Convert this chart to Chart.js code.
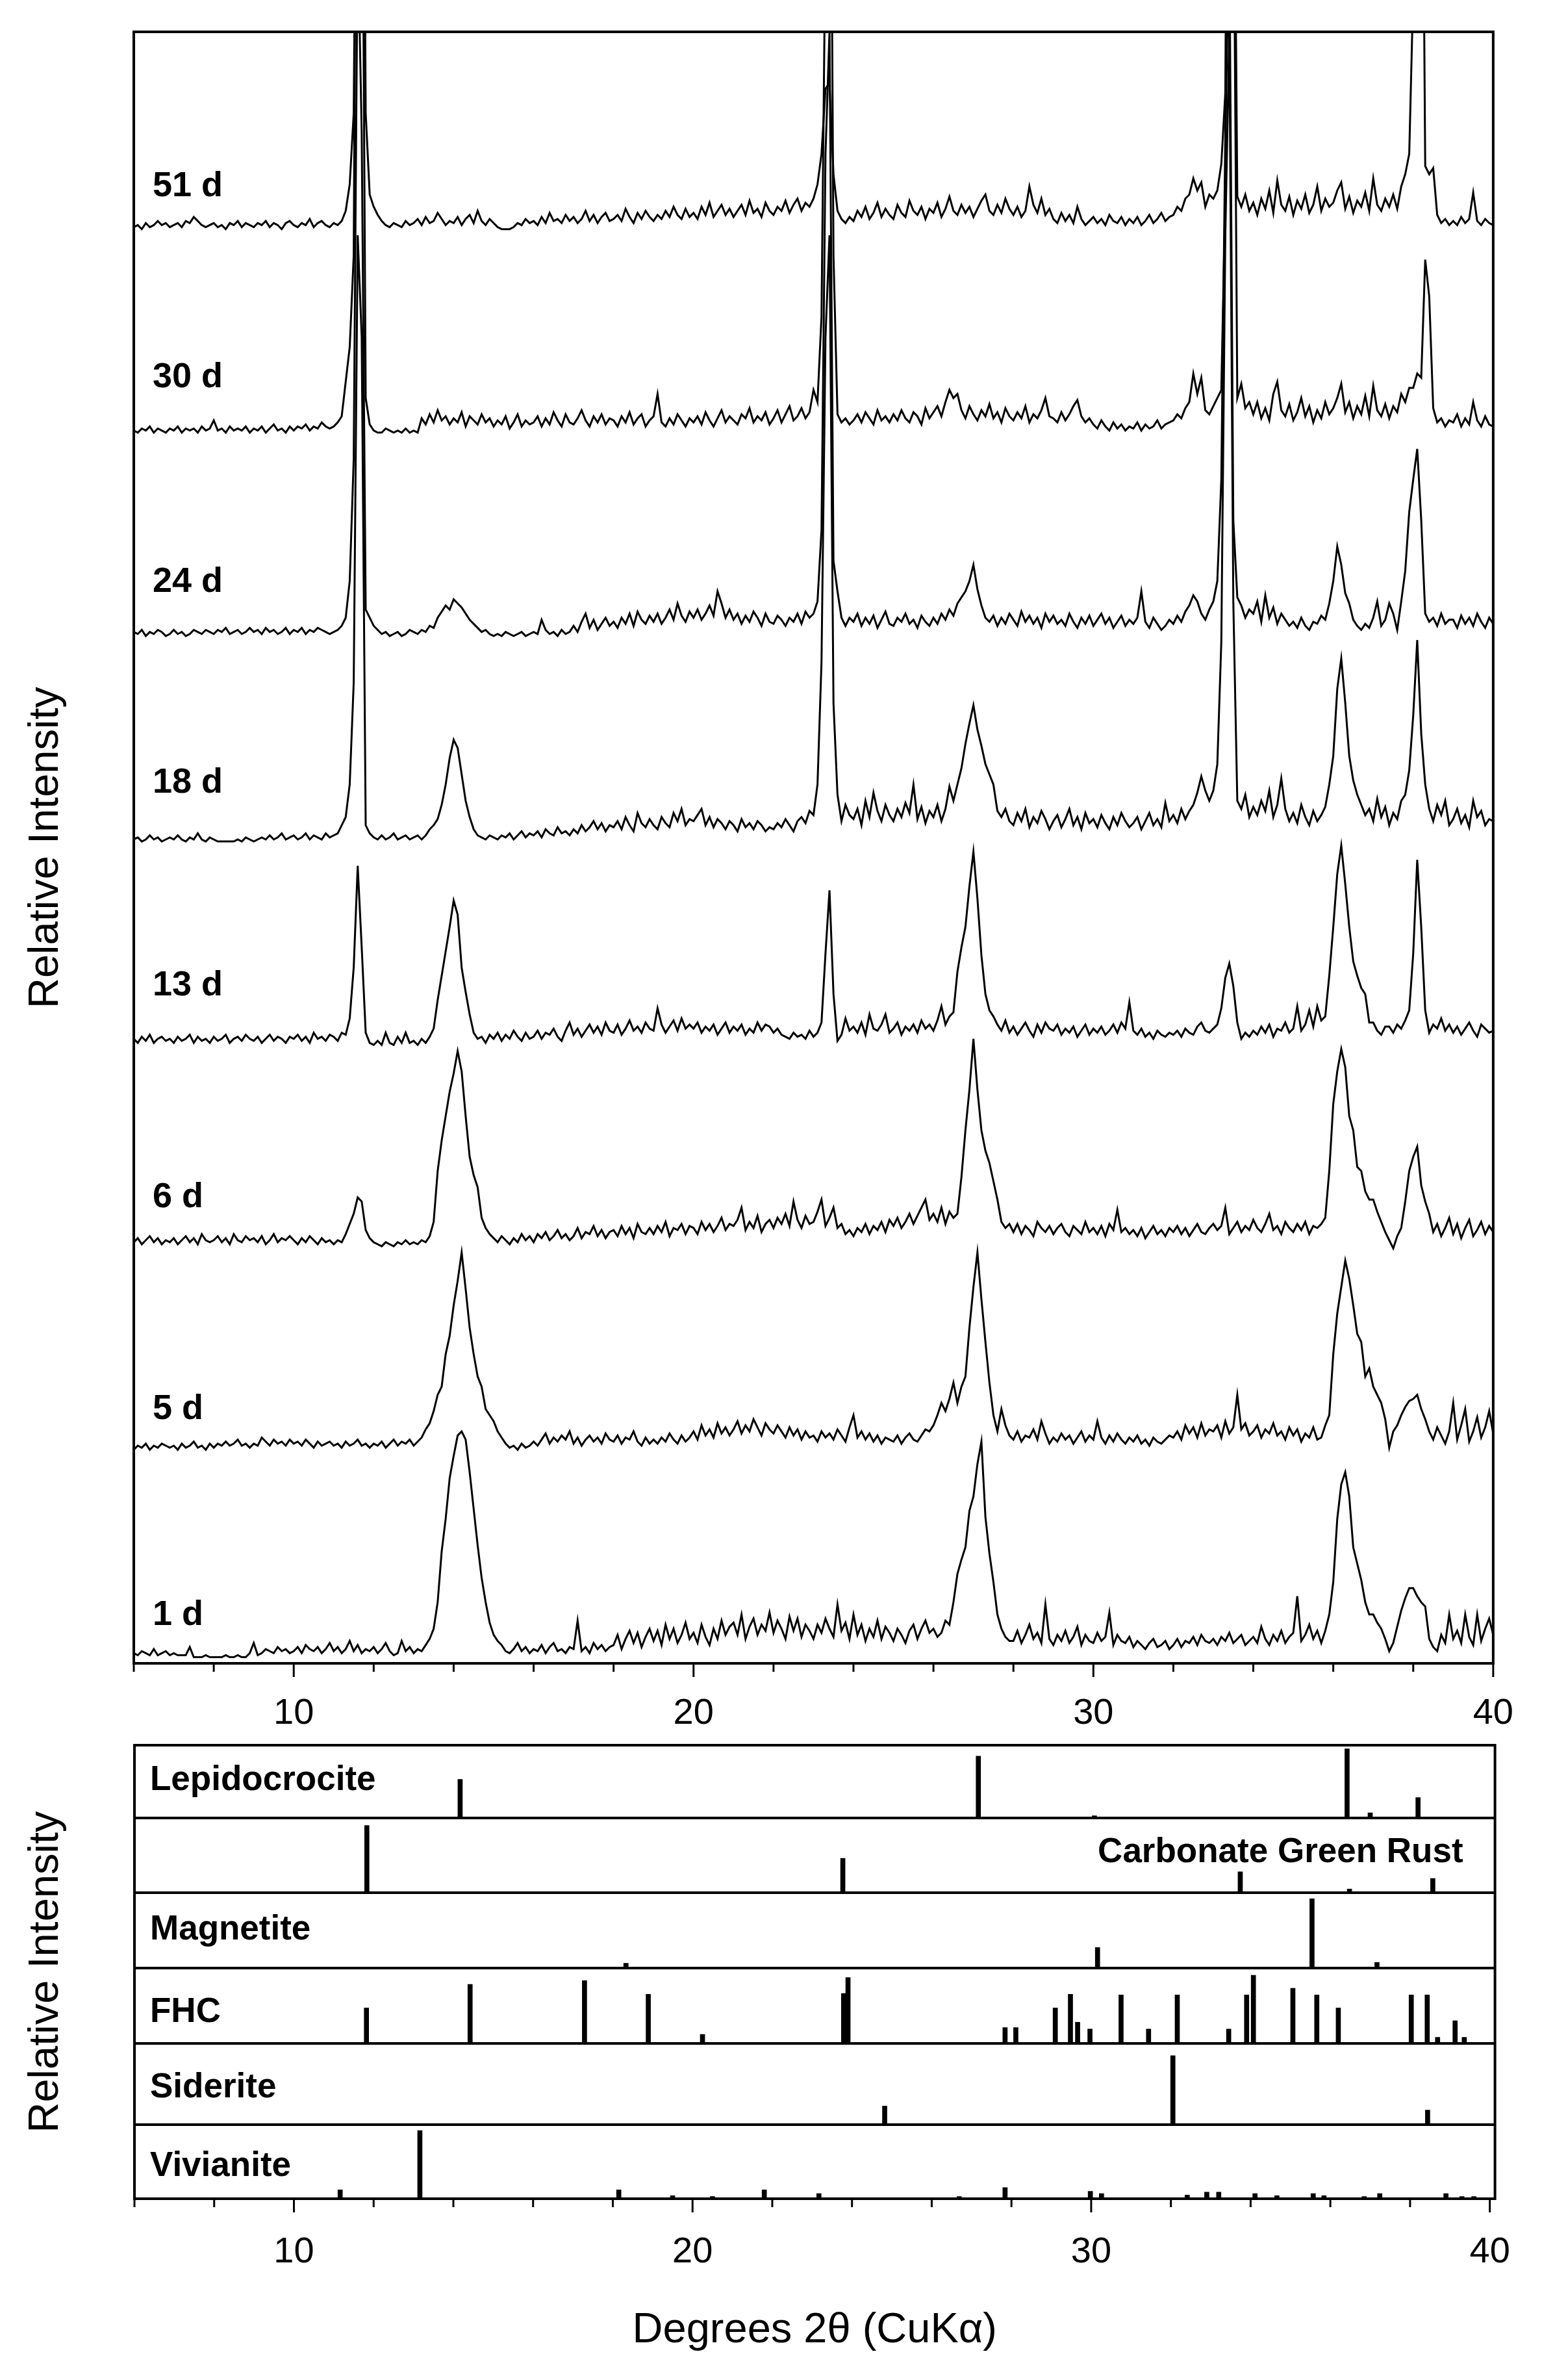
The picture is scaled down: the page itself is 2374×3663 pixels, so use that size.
<!DOCTYPE html>
<html>
<head>
<meta charset="utf-8">
<script src="https://cdn.jsdelivr.net/npm/chart.js@4.4.1/dist/chart.umd.min.js"></script>
<style>
  html, body { margin: 0; padding: 0; background: #fff; }
  #wrap { position: relative; width: 2374px; height: 3663px; }
  canvas { position: absolute; left: 0; }
  #xrd { top: 0; }
  #ref { top: 2600px; }
</style>
</head>
<body>
<div id="wrap">
  <canvas id="xrd" width="2374" height="2700"></canvas>
  <canvas id="ref" width="2374" height="1063"></canvas>
</div>
<script>
// 2-theta grid of the measured patterns: 6.0 .. 40.0 in 0.1 deg steps
const angleStart = 6;
const angleStep = 0.1;
const tickValues = [6, 8, 10, 12, 14, 16, 18, 20, 22, 24, 26, 28, 30, 32, 34, 36, 38, 40];

const days = ['1 d', '5 d', '6 d', '13 d', '18 d', '24 d', '30 d', '51 d'];
// vertical offset of each pattern (one step = 100)
const offsets = [2, 102, 202, 302, 402, 502, 602, 702];
const labelLift = [21.6, 23, 27, 31, 30.7, 29.5, 30, 24];

// intensities, one row per degree (x.0 .. x.9)
const trace1d = [
  3,2,4,3,2,5,2,3,4,2,
  3,2,2,2,6,1,1,1,2,1,
  1,1,1,2,1,1,2,1,1,3,
  8,2,3,5,4,3,6,4,5,3,
  4,6,3,7,5,4,6,3,5,8,
  4,6,3,5,9,4,7,3,5,4,
  6,3,5,8,4,2,3,9,4,6,
  3,5,4,7,10,15,28,53,69,89,
  100,110,112,108,92,74,56,40,28,18,
  12,9,7,4,3,5,8,4,6,3,
  5,4,7,3,6,8,4,5,3,6,
  5,19,4,6,3,8,5,7,4,6,
  7,12,5,10,14,8,13,6,11,15,
  9,14,7,17,10,15,8,12,18,10,
  13,8,17,11,7,15,10,19,12,16,
  18,12,22,10,16,20,12,17,14,23,
  13,19,15,10,21,14,20,11,17,14,
  10,17,13,20,15,11,27,14,18,10,
  22,12,17,9,15,11,19,10,16,13,
  9,15,12,8,14,17,10,15,19,13,
  15,11,13,19,17,28,42,49,55,73,
  80,96,107,70,52,38,22,15,11,9,
  9,14,8,12,17,10,13,8,27,10,
  7,12,9,14,8,11,16,7,12,9,
  8,13,9,11,23,7,12,9,8,11,
  6,9,7,5,8,10,6,7,9,5,
  7,10,6,9,8,11,7,12,9,8,
  10,7,11,9,13,8,10,12,7,9,
  11,8,16,10,7,12,9,14,8,11,
  13,31,9,12,17,10,14,8,14,22,
  38,69,86,92,80,55,47,39,28,22,
  22,18,15,10,4,8,16,24,30,35,
  35,31,28,26,10,6,4,12,8,22,
  10,14,8,22,11,7,22,9,15,20,
  12
];
const trace5d = [
  3,5,4,6,3,5,4,6,5,4,
  5,3,6,4,5,7,4,5,3,6,
  4,6,5,7,5,6,8,5,6,4,
  6,5,9,7,5,8,6,7,5,8,
  6,7,5,8,6,4,7,5,6,7,
  5,6,4,7,5,6,8,5,6,4,
  6,5,7,4,6,8,5,7,6,8,
  5,7,9,13,16,22,30,34,50,59,
  74,86,100,82,63,50,39,34,23,20,
  17,12,9,6,4,5,3,6,4,5,
  7,5,8,11,6,9,7,10,8,12,
  6,9,5,8,10,7,9,6,11,8,
  7,10,6,9,8,12,7,5,9,6,
  8,6,9,7,11,8,6,10,7,9,
  12,8,15,10,13,9,16,11,14,10,
  13,17,11,15,12,18,14,10,16,13,
  11,15,12,9,14,10,13,8,12,9,
  10,7,12,9,11,8,13,10,7,14,
  20,9,12,8,11,7,10,6,9,8,
  7,10,6,9,11,8,7,10,13,12,
  15,20,26,22,28,36,26,34,39,63,
  83,100,77,56,36,20,12,23,15,10,
  8,12,7,10,9,13,8,17,11,6,
  9,7,11,8,10,6,9,12,7,10,
  8,17,9,6,10,7,11,8,6,9,
  7,10,6,8,5,9,7,6,8,10,
  9,12,8,15,11,14,9,16,10,13,
  12,15,9,17,11,14,30,13,16,10,
  12,15,9,13,11,16,10,12,8,14,
  10,13,7,11,9,14,8,9,15,20,
  50,70,83,96,87,74,60,56,39,43,
  34,30,26,18,4,12,15,20,24,27,
  28,30,23,18,12,8,14,10,6,12,
  26,8,15,23,7,12,19,9,14,22,
  11
];
const trace6d = [
  5,7,4,6,8,5,7,4,6,5,
  7,4,6,8,5,7,4,9,6,5,
  6,8,5,7,4,9,6,5,8,6,
  7,5,8,4,6,9,5,7,6,8,
  6,4,7,5,8,6,4,7,5,6,
  4,6,5,9,14,19,27,25,11,7,
  5,4,3,5,4,3,5,4,6,4,
  5,4,6,5,8,15,40,55,67,79,
  88,99,89,67,47,38,32,17,12,9,
  7,5,8,6,4,7,5,9,6,8,
  5,9,7,10,6,8,11,7,9,6,
  8,12,7,10,9,13,8,11,7,10,
  11,8,13,9,12,7,14,10,9,12,
  9,13,10,15,8,12,11,14,9,13,
  12,9,15,11,14,10,13,17,11,14,
  13,16,22,11,15,12,18,10,14,16,
  12,17,14,19,13,25,16,12,18,14,
  15,20,26,13,17,22,12,14,9,11,
  8,12,10,14,9,13,11,15,10,16,
  13,17,12,15,19,14,18,22,26,16,
  19,15,22,14,20,17,19,37,60,80,
  105,80,60,50,44,35,26,15,12,14,
  10,14,9,13,11,8,15,12,10,13,
  9,12,14,10,8,13,11,9,15,10,
  12,9,13,8,14,11,21,10,12,9,
  11,8,12,7,10,13,9,11,8,12,
  10,13,9,12,8,11,14,10,9,12,
  14,11,13,22,9,12,15,10,13,11,
  16,12,10,14,19,11,13,9,15,12,
  10,14,11,15,9,13,12,14,17,40,
  73,89,100,91,67,60,42,40,30,26,
  26,20,15,10,6,2,8,12,25,40,
  47,52,33,25,19,10,14,8,12,17,
  9,14,7,12,16,8,11,15,9,13,
  10
];
const trace13d = [
  5,3,6,4,7,3,5,6,4,5,
  3,6,4,5,7,3,6,4,5,3,
  6,4,5,7,3,5,6,4,7,5,
  4,6,3,5,7,4,6,5,3,6,
  5,7,4,6,3,8,5,6,4,7,
  6,4,8,7,15,40,90,50,8,3,
  2,4,2,8,3,2,6,3,8,3,
  4,2,5,3,6,10,24,36,48,60,
  73,66,40,28,17,8,5,6,3,7,
  5,8,4,7,5,9,6,4,8,5,
  6,9,5,8,7,10,6,4,9,13,
  7,10,6,9,12,8,11,7,13,9,
  8,12,7,10,14,9,11,8,13,10,
  9,20,12,8,11,14,9,15,10,12,
  10,13,8,11,9,12,7,10,13,8,
  11,9,12,7,10,8,13,9,12,11,
  8,10,7,6,5,8,6,7,5,9,
  6,8,13,47,78,27,4,7,15,9,
  11,8,13,7,17,10,9,12,17,8,
  10,13,7,11,9,12,8,14,10,12,
  9,14,21,12,16,18,38,50,60,80,
  97,74,46,27,19,16,12,9,14,8,
  11,7,10,13,9,6,12,8,13,10,
  9,12,7,10,8,11,6,9,12,7,
  10,8,11,7,9,12,8,13,10,23,
  9,7,10,6,8,5,9,7,6,8,
  7,9,6,10,8,7,11,13,9,8,
  10,12,20,35,42,31,13,5,8,6,
  9,7,11,8,12,6,10,9,13,8,
  10,21,9,12,19,11,21,14,16,36,
  60,86,100,81,60,43,36,30,27,13,
  13,9,7,11,11,8,12,10,14,19,
  47,93,60,19,8,12,10,15,9,12,
  8,11,7,10,13,9,6,12,10,8,
  9
];
const trace18d = [
  3,4,2,3,5,3,4,2,3,4,
  3,5,3,2,4,3,6,3,2,4,
  3,2,2,2,2,2,3,2,4,3,
  2,3,4,3,5,3,4,6,3,4,
  5,3,4,6,3,5,4,3,6,4,
  5,6,10,14,30,80,300,250,10,6,
  4,3,5,3,4,6,3,4,5,3,
  4,5,3,5,8,10,13,20,30,43,
  52,48,35,22,14,8,5,4,3,5,
  4,3,5,4,6,3,5,7,4,6,
  5,7,4,8,6,5,9,6,7,5,
  8,6,10,7,9,12,8,11,7,10,
  9,12,8,14,10,7,16,11,9,13,
  10,8,14,11,9,16,12,18,10,13,
  12,15,18,10,14,9,13,11,8,12,
  10,7,13,9,11,8,12,10,7,9,
  8,11,9,13,10,7,12,14,11,17,
  15,30,90,250,300,70,25,12,20,15,
  13,18,10,22,14,26,17,12,20,15,
  12,18,14,21,16,30,13,19,11,17,
  14,20,12,18,29,22,30,38,50,60,
  69,57,49,40,35,30,17,14,18,12,
  10,16,12,18,9,14,11,17,13,8,
  12,15,9,13,18,10,14,8,16,11,
  13,9,15,11,8,14,10,16,12,9,
  11,14,8,12,16,10,13,9,21,12,
  15,11,18,13,17,20,26,34,27,22,
  27,40,100,300,400,120,22,18,25,14,
  19,15,22,17,27,14,20,33,18,12,
  16,11,20,14,10,17,12,15,19,30,
  44,77,92,70,44,32,25,20,15,18,
  12,23,14,19,10,16,13,22,25,37,
  64,101,55,30,18,12,20,15,22,10,
  13,18,11,15,9,22,14,17,10,13,
  12
];
const trace24d = [
  5,4,6,3,5,4,6,5,3,4,
  6,4,5,3,4,6,5,4,6,5,
  4,6,5,7,4,5,6,4,5,7,
  5,6,4,7,5,6,4,5,7,4,
  6,5,7,4,6,5,7,6,5,4,
  5,6,8,12,30,90,350,250,16,12,
  8,6,4,5,3,4,5,3,4,6,
  5,4,6,5,8,7,12,15,18,16,
  21,19,17,14,11,9,7,5,6,4,
  3,4,3,5,4,3,4,5,3,4,
  5,4,11,6,4,5,3,6,4,5,
  8,5,10,14,7,11,6,9,12,8,
  10,7,12,9,14,8,15,11,9,13,
  10,14,9,12,16,11,19,13,10,15,
  12,16,11,14,18,13,25,19,12,16,
  11,14,9,13,10,15,12,8,14,10,
  9,13,11,8,12,10,14,9,15,12,
  14,20,55,240,300,40,25,12,8,12,
  10,14,8,12,9,13,7,11,15,9,
  8,12,10,14,9,11,7,13,10,8,
  12,9,14,11,16,13,19,22,25,30,
  38,26,18,12,10,13,8,12,9,14,
  11,8,15,10,13,9,12,7,14,10,
  13,9,11,8,14,10,7,12,9,13,
  8,11,14,9,12,7,10,13,8,11,
  9,12,25,10,7,12,9,6,8,11,
  9,13,10,15,18,23,20,14,11,16,
  20,30,80,250,350,60,22,18,12,16,
  14,20,10,23,12,17,9,14,11,8,
  10,7,12,8,6,10,9,13,11,19,
  30,47,38,24,19,11,8,6,9,7,
  12,20,8,11,19,14,6,20,35,64,
  80,95,60,14,10,12,8,14,9,11,
  11,7,13,9,12,8,14,10,7,12,
  9
];
const trace30d = [
  4,3,5,4,6,3,5,4,3,5,
  4,6,3,5,4,5,3,6,4,5,
  9,4,5,3,6,4,5,4,6,3,
  5,4,6,3,5,7,4,5,3,6,
  4,6,5,7,4,6,5,8,6,5,
  6,8,11,28,45,90,450,350,20,7,
  4,3,3,5,4,3,4,3,5,3,
  4,3,10,7,12,8,14,9,11,7,
  10,8,13,6,11,9,7,12,8,10,
  6,9,7,11,5,8,12,6,9,7,
  8,11,6,10,7,13,9,6,12,8,
  7,10,14,9,6,11,8,12,7,10,
  9,6,11,8,13,7,10,12,6,9,
  11,22,8,6,10,7,12,9,6,10,
  8,11,7,13,9,6,10,14,8,11,
  9,7,12,10,15,8,11,9,13,7,
  10,14,8,12,16,9,11,15,10,13,
  24,18,60,250,420,90,12,8,10,7,
  9,12,8,13,10,7,14,9,11,8,
  12,9,14,10,8,13,11,7,15,10,
  13,16,11,18,24,20,22,14,10,16,
  12,9,14,11,17,10,13,8,15,11,
  9,13,10,16,8,12,10,14,20,11,
  10,8,13,9,12,16,19,11,8,10,
  7,5,9,6,4,8,5,7,4,6,
  5,8,4,7,5,6,9,5,7,8,
  9,12,10,15,18,32,22,30,14,12,
  16,20,24,120,450,300,20,27,15,18,
  12,18,10,15,9,22,28,14,11,17,
  9,13,20,11,16,8,14,10,18,12,
  15,20,27,13,18,10,16,12,21,11,
  26,14,11,17,10,16,13,22,18,25,
  25,32,30,88,70,15,8,10,6,9,
  8,12,6,10,7,18,9,6,11,7,
  6
];
const trace51d = [
  4,5,3,6,4,5,7,5,6,4,
  5,6,4,7,6,9,7,5,4,5,
  6,4,5,3,6,5,7,4,6,5,
  4,6,5,7,4,6,5,3,6,7,
  5,4,6,5,8,4,6,7,5,4,
  6,5,7,12,25,60,300,400,60,20,
  14,10,7,5,4,6,5,4,7,5,
  6,8,5,9,6,7,11,8,5,7,
  6,9,5,8,10,6,12,7,5,8,
  6,4,3,3,3,4,6,5,8,6,
  7,5,9,6,11,7,8,6,10,7,
  9,6,8,12,7,10,6,9,11,7,
  8,10,7,13,9,6,11,8,12,9,
  7,10,8,12,9,14,10,8,13,9,
  11,8,14,10,16,9,12,15,10,13,
  9,12,15,10,17,11,13,9,16,12,
  10,14,12,17,11,15,18,12,16,14,
  18,25,40,72,75,30,12,8,6,9,
  7,12,9,14,8,11,16,9,13,10,
  8,15,11,9,17,12,10,14,8,13,
  11,16,9,13,19,12,10,15,11,14,
  9,13,17,20,12,10,15,11,18,13,
  10,14,9,12,24,15,11,18,10,13,
  8,6,11,7,10,6,14,8,5,7,
  9,6,8,5,10,7,6,9,5,8,
  6,9,5,7,10,6,8,11,7,9,
  10,14,12,18,20,28,22,26,14,20,
  18,22,35,70,400,260,19,14,20,12,
  16,10,18,13,22,11,27,15,12,19,
  10,17,13,20,11,15,24,12,18,14,
  16,22,26,13,19,11,17,14,21,12,
  28,15,12,18,14,20,13,24,30,40,
  120,400,300,34,30,33,10,6,8,5,
  7,5,9,6,8,21,7,5,8,6,
  5
];
const traces = [trace1d, trace5d, trace6d, trace13d, trace18d, trace24d, trace30d, trace51d];

// reference patterns (stick positions in 2-theta, intensity in % of panel height)
const phaseNames = ['Lepidocrocite', 'Carbonate Green Rust', 'Magnetite', 'FHC', 'Siderite', 'Vivianite'];
const lepidocrocitePos = [14.17, 27.17, 30.08, 36.42, 37.0, 38.2];
const lepidocrociteInt = [53, 85, 3, 95, 7, 28];
const greenRustPos = [11.83, 23.77, 33.74, 36.48, 38.57];
const greenRustInt = [90, 46, 28, 5, 19];
const magnetitePos = [18.33, 30.16, 35.54, 37.17];
const magnetiteInt = [6, 27, 92, 7];
const fhcPos = [11.82, 14.42, 17.29, 18.89, 20.25, 23.79, 23.9, 27.84, 28.11, 29.1, 29.48, 29.66, 29.97, 30.75, 31.44, 32.16, 33.45, 33.9, 34.07, 35.06, 35.66, 36.2, 38.03, 38.43, 38.69, 39.13, 39.36];
const fhcInt = [47, 78, 83, 65, 12, 66, 87, 21, 21, 47, 65, 28, 19, 64, 19, 64, 19, 64, 90, 73, 64, 47, 64, 64, 8, 30, 8];
const sideritePos = [24.82, 32.05, 38.44];
const sideriteInt = [23, 85, 18];
const vivianitePos = [11.16, 13.16, 18.15, 19.5, 20.5, 21.8, 23.17, 26.69, 27.84, 29.98, 30.26, 32.41, 32.9, 33.2, 34.11, 34.66, 35.57, 35.84, 36.85, 37.24, 38.9, 39.3, 39.6];
const vivianiteInt = [12, 92, 12, 4, 3, 12, 7, 3, 15, 10, 7, 5, 9, 9, 7, 4, 7, 4, 3, 7, 7, 3, 3];
const phasePos = [lepidocrocitePos, greenRustPos, magnetitePos, fhcPos, sideritePos, vivianitePos];
const phaseInt = [lepidocrociteInt, greenRustInt, magnetiteInt, fhcInt, sideriteInt, vivianiteInt];

// panel edges of the stick plot, top to bottom
const panelEdges = [698, 586, 471, 355.5, 239, 114, 0];
const phaseLabelLevel = [644, 533, 414, 287, 171, 50];

const fontFamily = "'Liberation Sans', Arial, Helvetica, sans-serif";
Chart.defaults.font.family = fontFamily;
Chart.defaults.color = '#000';

// box around the plot area and minor/major ticks under the x axis
const frameTicks = {
  id: 'frameTicks',
  afterDraw(chart) {
    const { ctx, chartArea: a, scales: { x } } = chart;
    ctx.save();
    ctx.strokeStyle = '#000';
    ctx.lineWidth = 4;
    ctx.strokeRect(a.left, a.top, a.right - a.left, a.bottom - a.top);
    ctx.lineWidth = 3;
    x.ticks.forEach(t => {
      const px = x.getPixelForValue(t.value);
      const len = t.value % 10 === 0 ? 21 : 13;
      ctx.beginPath();
      ctx.moveTo(px, a.bottom);
      ctx.lineTo(px, a.bottom + len);
      ctx.stroke();
    });
    ctx.restore();
  }
};

const traceLabels = {
  id: 'traceLabels',
  afterDatasetsDraw(chart) {
    const { ctx, chartArea: a, scales: { y } } = chart;
    ctx.save();
    ctx.font = 'bold 54px ' + fontFamily;
    ctx.fillStyle = '#000';
    ctx.textBaseline = 'middle';
    days.forEach((d, i) => {
      ctx.fillText(d, a.left + 29, y.getPixelForValue(offsets[i] + labelLift[i]));
    });
    ctx.restore();
  }
};

const phaseLabels = {
  id: 'phaseLabels',
  afterDatasetsDraw(chart) {
    const { ctx, chartArea: a, scales: { y } } = chart;
    ctx.save();
    ctx.font = 'bold 53px ' + fontFamily;
    ctx.fillStyle = '#000';
    ctx.textBaseline = 'middle';
    phaseNames.forEach((n, i) => {
      const py = y.getPixelForValue(phaseLabelLevel[i]);
      if (n === 'Carbonate Green Rust') {
        ctx.textAlign = 'right';
        ctx.fillText(n, a.right - 49, py);
      } else {
        ctx.textAlign = 'left';
        ctx.fillText(n, a.left + 24, py);
      }
    });
    ctx.restore();
  }
};

function xAxis(max, padding, height, title) {
  return {
    type: 'linear', min: 6, max: max, offset: false,
    afterBuildTicks: s => { s.ticks = tickValues.map(v => ({ value: v })); },
    afterFit: s => { s.height = height; },
    grid: { display: false, drawTicks: false, offset: false },
    border: { display: false },
    ticks: {
      autoSkip: false, maxRotation: 0, minRotation: 0, padding: padding,
      font: { size: 56 },
      callback: v => (v % 10 === 0 ? v : '')
    },
    title: title
  };
}

new Chart(document.getElementById('xrd'), {
  type: 'line',
  data: {
    datasets: days.map((d, i) => ({
      label: d,
      data: traces[i].map((v, j) => ({ x: angleStart + j * angleStep, y: offsets[i] + v })),
      borderColor: '#000',
      borderWidth: 3,
      pointRadius: 0,
      tension: 0,
      fill: false
    }))
  },
  options: {
    responsive: false,
    animation: false,
    devicePixelRatio: 1,
    layout: { padding: { top: 49, right: 69, left: 0, bottom: 0 } },
    plugins: { legend: { display: false }, tooltip: { enabled: false } },
    scales: {
      x: xAxis(40, 44, 140, { display: false }),
      y: {
        min: 0, max: 802,
        afterFit: s => { s.width = 206; },
        grid: { display: false, drawTicks: false },
        border: { display: false },
        ticks: { display: false },
        title: { display: true, text: 'Relative Intensity', font: { size: 65 }, padding: { top: 32, bottom: 0 } }
      }
    }
  },
  plugins: [frameTicks, traceLabels]
});

new Chart(document.getElementById('ref'), {
  type: 'bar',
  data: {
    datasets: phaseNames.map((n, i) => {
      const base = panelEdges[i + 1];
      const h = panelEdges[i] - panelEdges[i + 1];
      return {
        label: n,
        data: phasePos[i].map((p, k) => ({ x: p, y: [base, base + phaseInt[i][k] / 100 * h] })),
        backgroundColor: '#000',
        barThickness: 7,
        grouped: false
      };
    })
  },
  options: {
    responsive: false,
    animation: false,
    devicePixelRatio: 1,
    layout: { padding: { top: 86, right: 58, left: 0, bottom: 0 } },
    plugins: { legend: { display: false }, tooltip: { enabled: false } },
    scales: {
      x: xAxis(40.13, 49, 279, {
        display: true, text: 'Degrees 2\u03B8 (CuK\u03B1)', font: { size: 65 }, padding: { top: 0, bottom: 37 }
      }),
      y: {
        min: 0, max: 698,
        afterBuildTicks: s => { s.ticks = panelEdges.map(v => ({ value: v })); },
        afterFit: s => { s.width = 207; },
        grid: { color: '#000', lineWidth: 4, drawTicks: false },
        border: { display: false },
        ticks: { display: false },
        title: { display: true, text: 'Relative Intensity', font: { size: 65 }, padding: { top: 32, bottom: 0 } }
      }
    }
  },
  plugins: [frameTicks, phaseLabels]
});
</script>
</body>
</html>
